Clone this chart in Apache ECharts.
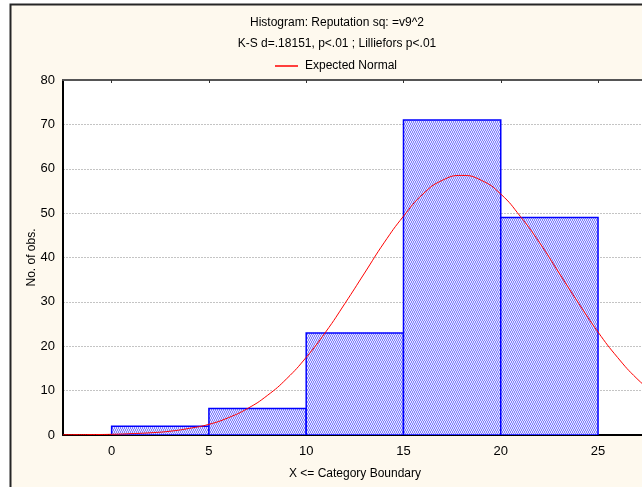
<!DOCTYPE html>
<html><head><meta charset="utf-8">
<script src="https://cdn.jsdelivr.net/npm/echarts@6/dist/echarts.min.js"></script>
<style>html,body{margin:0;padding:0;background:#fff;overflow:hidden}#c{width:642px;height:487px}</style>
</head><body><div id="c"></div>
<script>
// Histogram bins
const binStart = [0, 5, 10, 15, 20];
const binEnd = [5, 10, 15, 20, 25];
const counts = [2, 6, 23, 71, 49];
// Expected normal curve
const curveX = [-2.5, -2, -1, 0, 1, 2, 3, 4, 5, 6, 7, 8, 9, 10, 11, 12, 13, 14, 15, 16, 17, 18, 19, 20, 21, 22, 23, 24, 25, 26, 27, 28];
const curveY = [0.05, 0.07, 0.1, 0.15, 0.3, 0.5, 0.85, 1.5, 2.4, 3.9, 6.0, 8.9, 12.7, 17.5, 23.2, 29.7, 36.5, 43.3, 49.3, 54.3, 57.4, 58.5, 57.4, 54.3, 49.3, 43.3, 36.5, 29.7, 23.2, 17.5, 12.7, 8.9];
const xTicks = [0, 5, 10, 15, 20, 25];
const titleLines = ['Histogram: Reputation sq: =v9^2', 'K-S d=.18151, p<.01 ; Lilliefors p<.01'];
const seriesName = 'Expected Normal';

const FONT = 'Arial, "Liberation Sans", sans-serif';

// hatch pattern
const pat = document.createElement('canvas');
pat.width = 4; pat.height = 4;
const pc = pat.getContext('2d');
pc.fillStyle = '#e6e6ff'; pc.fillRect(0, 0, 4, 4);
const blue = [[0,0],[2,0],[1,1],[3,1],[1,2],[3,2],[0,3],[2,3]];
pc.fillStyle = '#8080ff';
blue.forEach(p => pc.fillRect(p[0], p[1], 1, 1));

const histData = binStart.map((s, i) => [s, binEnd[i], counts[i]]);
const curveData = curveX.map((x, i) => [x, curveY[i]]);

const chart = echarts.init(document.getElementById('c'), null, {renderer: 'canvas'});
chart.setOption({
  animation: false,
  backgroundColor: '#ffffff',
  textStyle: {fontFamily: FONT},
  graphic: [
    {type: 'rect', z: -10, shape: {x: 10.5, y: 4.5, width: 700, height: 600},
     style: {fill: '#fef9ee', stroke: '#262626', lineWidth: 2}},
    {type: 'text', x: 337, y: 23, style: {text: titleLines[0], font: '12px ' + FONT, fill: '#000', align: 'center', verticalAlign: 'middle'}},
    {type: 'text', x: 337, y: 44, style: {text: titleLines[1], font: '12px ' + FONT, fill: '#000', align: 'center', verticalAlign: 'middle'}}
  ],
  legend: {
    left: 270, top: 55, icon: 'rect', itemWidth: 23, itemHeight: 1.5,
    data: [seriesName],
    textStyle: {fontSize: 12, color: '#000', fontFamily: FONT, padding: [0, 0, 0, 2]}
  },
  grid: {left: 63, right: 0, top: 80, bottom: 52, show: true, backgroundColor: '#ffffff', borderWidth: 0},
  xAxis: [{
    type: 'value', min: -2.5, max: 27.26, position: 'bottom',
    name: 'X <= Category Boundary', nameLocation: 'middle', nameGap: 33, nameMoveOverlap: false,
    nameTextStyle: {fontSize: 12, color: '#000', fontFamily: FONT, padding: [0, 0, 0, 5]},
    axisLine: {show: true, onZero: false, lineStyle: {color: '#000', width: 2}},
    axisTick: {show: false, customValues: xTicks},
    axisLabel: {customValues: xTicks, fontSize: 13, color: '#000', margin: 10, fontFamily: FONT},
    splitLine: {show: false}
  }, {
    type: 'value', min: -2.5, max: 27.26, position: 'top',
    axisLine: {show: true, onZero: false, lineStyle: {color: '#555', width: 2}},
    axisTick: {show: true, inside: true, length: 3, customValues: xTicks, lineStyle: {color: '#333', width: 1}},
    axisLabel: {show: false},
    splitLine: {show: false}
  }],
  yAxis: {
    type: 'value', min: 0, max: 80, interval: 10,
    name: 'No. of obs.', nameLocation: 'middle', nameGap: 25, nameMoveOverlap: false,
    nameTextStyle: {fontSize: 12, color: '#000', fontFamily: FONT},
    axisLine: {show: true, onZero: false, lineStyle: {color: '#000', width: 2}},
    axisTick: {show: false},
    axisLabel: {fontSize: 13, color: '#000', margin: 8, fontFamily: FONT},
    splitLine: {show: true, lineStyle: {color: '#c4c4c4', type: [2, 1], width: 1}}
  },
  series: [{
    type: 'custom', name: 'Histogram', xAxisIndex: 0,
    data: histData, clip: true,
    encode: {x: [0, 1], y: 2},
    renderItem: function (params, api) {
      const p0 = api.coord([api.value(0), 0]);
      const p1 = api.coord([api.value(1), api.value(2)]);
      return {
        type: 'rect',
        shape: {x: p0[0], y: p1[1], width: p1[0] - p0[0], height: p0[1] - p1[1]},
        style: {fill: {image: pat, repeat: 'repeat'}, stroke: '#0000ff', lineWidth: 1.5}
      };
    },
    z: 2
  }, {
    type: 'line', name: seriesName, xAxisIndex: 0,
    data: curveData, smooth: true, showSymbol: false, symbol: 'none', clip: true,
    lineStyle: {color: '#ff0000', width: 1}, itemStyle: {color: '#ff0000'},
    z: 3
  }]
});
</script></body></html>
